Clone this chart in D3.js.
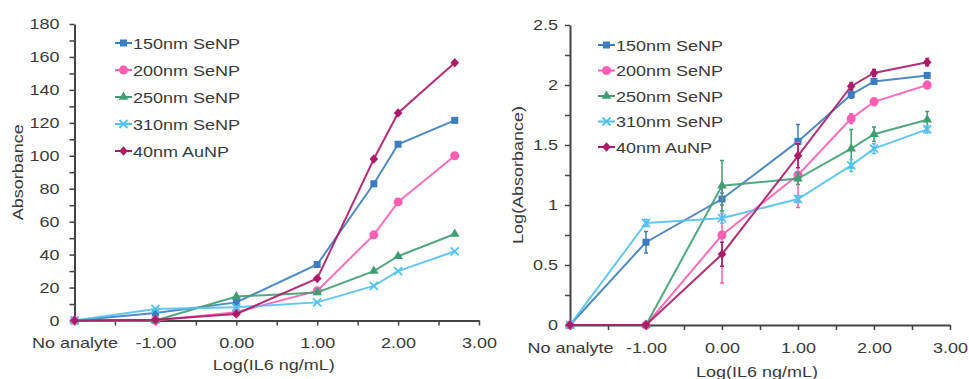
<!DOCTYPE html>
<html>
<head>
<meta charset="utf-8">
<script src="https://cdn.jsdelivr.net/npm/d3@7"></script>
<style>
  html, body { margin: 0; padding: 0; background: #fff; }
  svg { display: block; font-family: "Liberation Sans", Arial, sans-serif; }
</style>
</head>
<body>
<svg id="chart" width="969" height="379"></svg>
<script>
// ---------- data ----------
const xValues = [-2, -1, 0, 1, 1.7, 2, 2.7];
const xTickValues = [-2, -1, 0, 1, 2, 3];
const xTickLabels = ["No analyte", "-1.00", "0.00", "1.00", "2.00", "3.00"];
const seriesNames = ["150nm SeNP", "200nm SeNP", "250nm SeNP", "310nm SeNP", "40nm AuNP"];
const seriesColors = ["#3b7dc0", "#ff5eb3", "#3f9f72", "#52c1f0", "#ac1a68"];
const seriesMarkers = ["square", "circle", "triangle", "cross", "diamond"];

// left panel: Absorbance
const abs150 = [0, 4.5, 11, 34, 83, 107, 121.5];
const abs200 = [0, 0, 5, 18, 52, 72, 100];
const abs250 = [0, 0, 14.5, 17, 30, 39, 52.5];
const abs310 = [0, 7, 8, 11, 21, 30, 42];
const abs40Au = [0, 0.5, 4, 25.5, 98, 126, 156.5];

// right panel: Log(Absorbance) with error
const log150 = [0, 0.69, 1.05, 1.53, 1.92, 2.03, 2.08];
const log200 = [0, 0, 0.75, 1.25, 1.72, 1.86, 2.00];
const log250 = [0, 0, 1.16, 1.22, 1.47, 1.59, 1.71];
const log310 = [0, 0.85, 0.89, 1.05, 1.33, 1.47, 1.63];
const log40Au = [0, 0, 0.59, 1.41, 1.99, 2.10, 2.19];

const err150 = [0, 0.09, 0.05, 0.14, 0.03, 0.02, 0.02];
const err200 = [0, 0, 0.40, 0.27, 0.04, 0.03, 0.03];
const err250 = [0, 0, 0.21, 0.05, 0.16, 0.06, 0.07];
const err310 = [0, 0.03, 0.04, 0.03, 0.05, 0.04, 0.03];
const err40Au = [0, 0, 0.10, 0.10, 0.03, 0.03, 0.03];

const leftSeries = [abs150, abs200, abs250, abs310, abs40Au];
const rightSeries = [log150, log200, log250, log310, log40Au];
const rightErrors = [err150, err200, err250, err310, err40Au];

// ---------- helpers ----------
const svg = d3.select("#chart");
const TEXT = "#3a3a3a";
const AXIS = "#444";
const FS = 15;

function stretch(sel, k = 1.2) {
  sel.each(function () {
    const len = this.getComputedTextLength();
    if (len > 0) {
      this.setAttribute("textLength", len * k);
      this.setAttribute("lengthAdjust", "spacingAndGlyphs");
    }
  });
}

function drawMarker(g, type, x, y, color) {
  if (type === "square") {
    g.append("rect").attr("x", x - 3.5).attr("y", y - 3.5).attr("width", 7).attr("height", 7).attr("fill", color);
  } else if (type === "circle") {
    g.append("circle").attr("cx", x).attr("cy", y).attr("r", 4.5).attr("fill", color);
  } else if (type === "triangle") {
    g.append("path").attr("d", d3.symbol(d3.symbolTriangle, 40)()).attr("transform", `translate(${x},${y})`).attr("fill", color);
  } else if (type === "diamond") {
    g.append("path").attr("d", `M${x},${y - 4.8}L${x + 4.3},${y}L${x},${y + 4.8}L${x - 4.3},${y}Z`).attr("fill", color);
  } else if (type === "cross") {
    g.append("path").attr("d", `M${x - 4},${y - 4}L${x + 4},${y + 4}M${x - 4},${y + 4}L${x + 4},${y - 4}`)
      .attr("stroke", color).attr("stroke-width", 1.8).attr("fill", "none");
  }
}

function panel(opts) {
  const { x0, x1, y0, y1, yMax, yStep, yLabelStep, yFormat, series, errors, yTitle, yTitleX, xTitleY,
          legendX, legendY, legendGap, yPad } = opts;
  const x = d3.scaleLinear().domain([-2, 3]).range([x0, x1]);
  const y = d3.scaleLinear().domain([0, yMax]).range([y0, y1]);
  const g = svg.append("g");

  // x axis
  const xTicks = d3.range(-2, 3.001, 0.5);
  const xa = g.append("g").attr("transform", `translate(0,${y0})`)
    .call(d3.axisBottom(x).tickValues(xTicks).tickSize(5).tickSizeOuter(0).tickPadding(12)
      .tickFormat(d => { const i = xTickValues.indexOf(d); return i >= 0 ? xTickLabels[i] : ""; }));
  // y axis
  const yTicks = d3.range(0, yMax + 1e-9, yStep);
  const ya = g.append("g").attr("transform", `translate(${x0},0)`)
    .call(d3.axisLeft(y).tickValues(yTicks).tickSize(5).tickSizeOuter(0).tickPadding(yPad)
      .tickFormat(d => (Math.abs(d / yLabelStep - Math.round(d / yLabelStep)) < 1e-6) ? yFormat(d) : ""));
  [xa, ya].forEach(a => {
    a.select(".domain").attr("stroke", AXIS).attr("stroke-width", 2);
    a.selectAll(".tick line").attr("stroke", AXIS).attr("stroke-width", 1.5);
    a.selectAll(".tick text").attr("fill", TEXT).style("font-size", FS + "px")
      .style("font-family", '"Liberation Sans", Arial, sans-serif');
    stretch(a.selectAll(".tick text"));
  });

  // titles
  const xt = g.append("text").attr("x", (x0 + x1) / 2 - 3).attr("y", xTitleY).attr("text-anchor", "middle")
    .attr("fill", TEXT).style("font-size", FS + "px").text("Log(IL6 ng/mL)");
  stretch(xt);
  const yt = g.append("text").attr("transform", `translate(${yTitleX},${(y0 + y1) / 2 + 0}) rotate(-90)`)
    .attr("text-anchor", "middle").attr("fill", TEXT).style("font-size", FS + "px").text(yTitle);
  stretch(yt);

  // series
  const line = d3.line().x((d, i) => x(xValues[i])).y(d => y(d));
  series.forEach((vals, s) => {
    const sg = g.append("g");
    sg.append("path").attr("d", line(vals)).attr("fill", "none")
      .attr("stroke", seriesColors[s]).attr("stroke-width", 2).attr("stroke-opacity", 0.9);
    if (errors) {
      errors[s].forEach((e, i) => {
        if (e <= 0) return;
        const cx = x(xValues[i]);
        const ya1 = y(vals[i] + e), ya2 = y(vals[i] - e);
        sg.append("path").attr("d", `M${cx},${ya1}V${ya2}M${cx - 2},${ya1}H${cx + 2}M${cx - 2},${ya2}H${cx + 2}`)
          .attr("stroke", seriesColors[s]).attr("stroke-width", 1.5).attr("fill", "none");
      });
    }
    vals.forEach((v, i) => drawMarker(sg, seriesMarkers[s], x(xValues[i]), y(v), seriesColors[s]));
  });

  // legend
  seriesNames.forEach((name, s) => {
    const ly = legendY + s * legendGap;
    const lg = g.append("g");
    lg.append("line").attr("x1", legendX).attr("x2", legendX + 17).attr("y1", ly).attr("y2", ly)
      .attr("stroke", seriesColors[s]).attr("stroke-width", 2);
    drawMarker(lg, seriesMarkers[s], legendX + 8.5, ly, seriesColors[s]);
    const t = lg.append("text").attr("x", legendX + 18).attr("y", ly + 5.5).attr("fill", TEXT)
      .style("font-size", FS + "px").text(name);
    stretch(t);
  });
}

panel({
  x0: 74.5, x1: 479, y0: 320.5, y1: 24, yMax: 180, yStep: 10, yLabelStep: 20, yFormat: d3.format("d"),
  series: leftSeries, errors: null, yTitle: "Absorbance", yTitleX: 23, xTitleY: 370,
  legendX: 115, legendY: 43, legendGap: 27, yPad: 10
});

panel({
  x0: 570, x1: 950, y0: 325, y1: 25, yMax: 2.5, yStep: 0.25, yLabelStep: 0.5, yFormat: d => String(d),
  series: rightSeries, errors: rightErrors, yTitle: "Log(Absorbance)", yTitleX: 523, xTitleY: 377,
  legendX: 598, legendY: 45, legendGap: 25.5, yPad: 7
});
</script>
</body>
</html>
